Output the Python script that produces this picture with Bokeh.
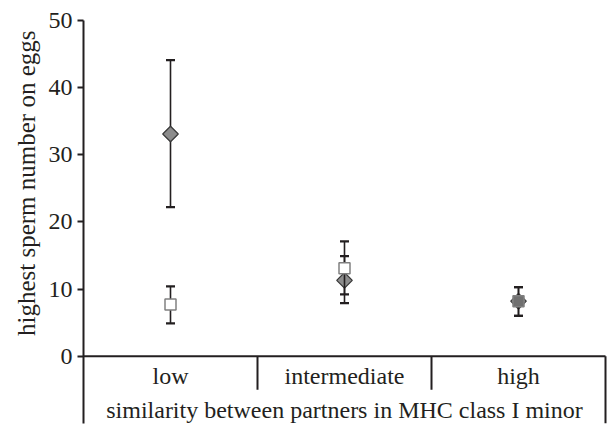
import math
from bokeh.plotting import figure
from bokeh.models import Range1d, FixedTicker, Title, ColumnDataSource
from bokeh.core.properties import value
from bokeh.embed import file_html
from bokeh.resources import INLINE

cats = ["low", "intermediate", "high"]
group_title = "similarity between partners in MHC class I minor"
y_title = "highest sperm number on eggs"
y_ticks = [0, 10, 20, 30, 40, 50]

diamond_mean = [33.1, 11.3, 8.2]
diamond_lo = [22.2, 7.9, 6.0]
diamond_hi = [44.1, 14.9, 10.3]

square_mean = [7.7, 13.1, 8.2]
square_lo = [4.9, 9.2, 6.0]
square_hi = [10.4, 17.1, 10.3]
square_fill = ["white", "white", "#707070"]

FONT = "Liberation Serif"
INK = "#231f20"
FS = "24px"

x_pos = [i + 0.5 for i in range(len(cats))]
n = len(cats)

p = figure(width=609, height=428, output_backend="svg", toolbar_location=None,
           x_range=Range1d(0, n + 3 / 174), y_range=Range1d(-10.02, 50),
           min_border_left=83, min_border_right=1, min_border_top=20, min_border_bottom=5)
p.outline_line_color = None
p.grid.visible = False
p.xaxis.visible = False
p.background_fill_color = "white"

ya = p.yaxis[0]
ya.ticker = FixedTicker(ticks=y_ticks)
ya.minor_tick_line_color = None
ya.major_tick_in = 0
ya.major_tick_out = 6
ya.major_tick_line_width = 2
ya.major_tick_line_color = INK
ya.axis_line_width = 2
ya.axis_line_color = INK
ya.major_label_text_font = FONT
ya.major_label_text_font_size = FS
ya.major_label_text_color = INK
ya.major_label_standoff = 5

p.add_layout(Title(text=y_title, align="right", offset=10, text_font=FONT,
                   text_font_size="25px", text_font_style="normal", text_color=INK,
                   standoff=12), "left")

# category axis structure
p.segment(x0=[0], y0=[0], x1=[n], y1=[0], line_color=INK, line_width=2)
p.segment(x0=list(range(1, n)), y0=[0] * (n - 1), x1=list(range(1, n)), y1=[-5] * (n - 1),
          line_color=INK, line_width=2)
p.segment(x0=[n], y0=[0], x1=[n], y1=[-10.02], line_color=INK, line_width=2)

p.text(x=x_pos, y=[-3.0] * n, text=cats, text_font=value(FONT), text_font_size=FS,
       text_color=INK, text_align="center", text_baseline="middle")
p.text(x=[n / 2], y=[-8.0], text=[group_title], text_font=value(FONT), text_font_size=FS,
       text_color=INK, text_align="center", text_baseline="middle")

# diamond series
p.segment(x0=x_pos, y0=diamond_lo, x1=x_pos, y1=diamond_hi, line_color=INK, line_width=1.6)
p.scatter(x=x_pos + x_pos, y=diamond_lo + diamond_hi, marker="dash", size=9,
          line_color=INK, line_width=2.2)
p.scatter(x=x_pos, y=diamond_mean, marker="square", angle=math.pi / 4, size=11,
          fill_color="#8c8c8c", line_color="#3a3a3a", line_width=1.3)

# square series
p.segment(x0=x_pos, y0=square_lo, x1=x_pos, y1=square_hi, line_color=INK, line_width=1.6)
p.scatter(x=x_pos + x_pos, y=square_lo + square_hi, marker="dash", size=9,
          line_color=INK, line_width=2.2)
src = ColumnDataSource(dict(x=x_pos, y=square_mean, f=square_fill))
p.scatter(x="x", y="y", source=src, marker="square", size=11,
          fill_color="f", line_color="#808080", line_width=1.5)

open("out.html", "w").write(file_html(p, INLINE))
